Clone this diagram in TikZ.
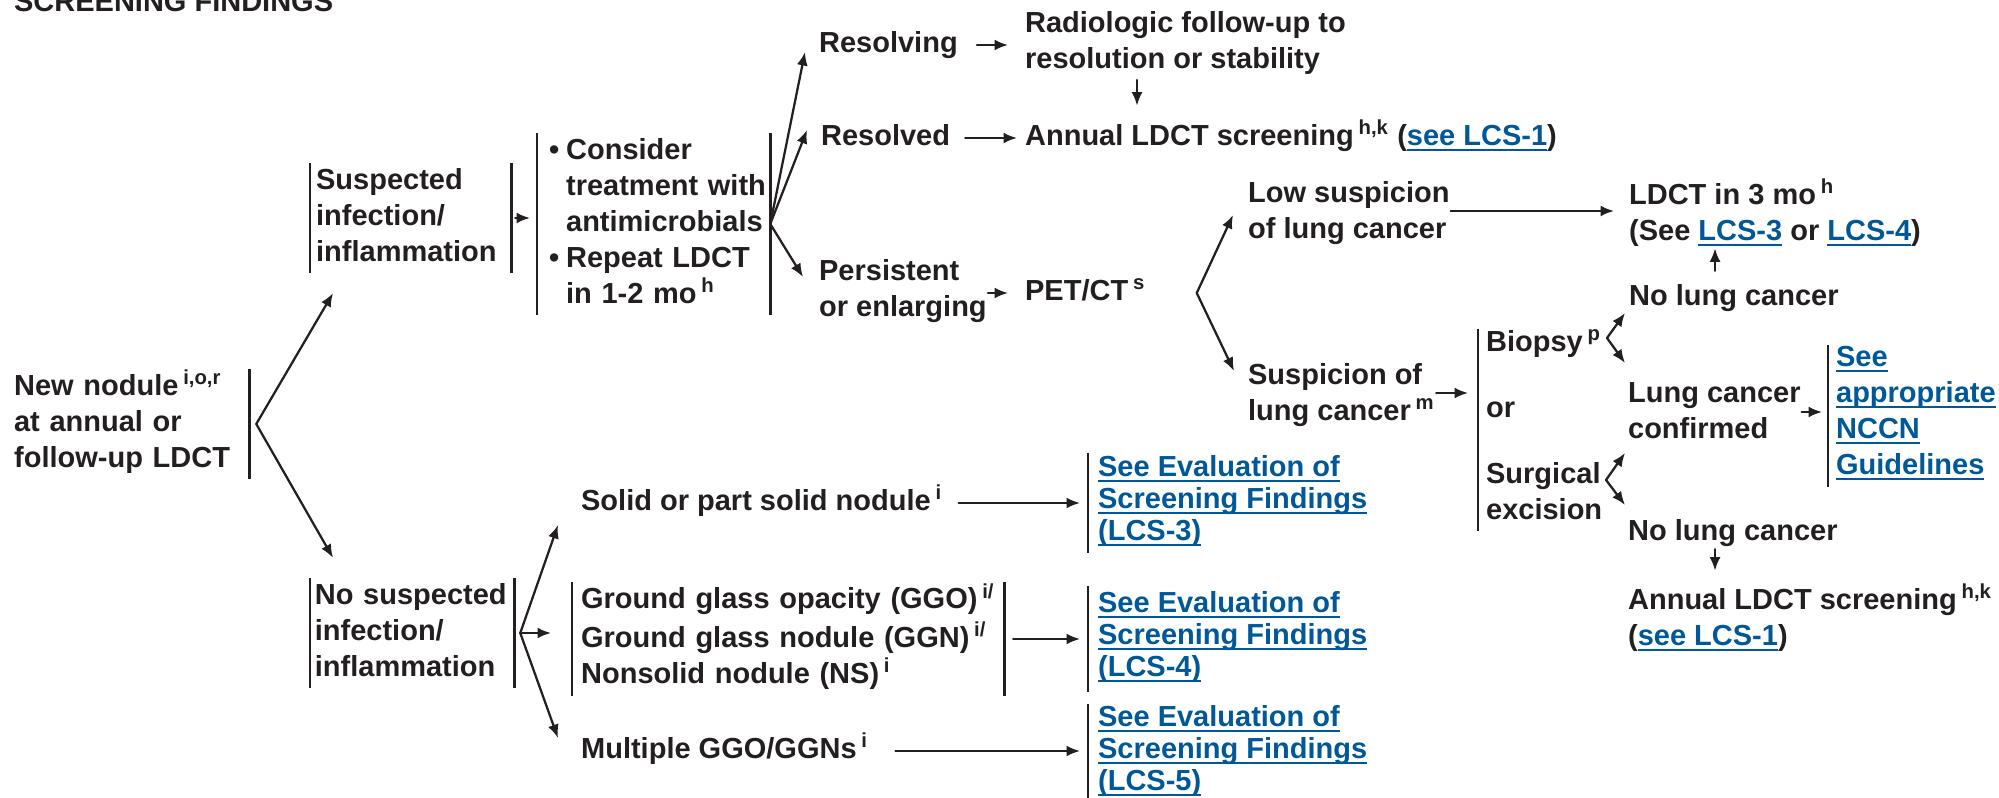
\documentclass[tikz,border=0pt]{standalone}
\usepackage{fontspec}
\setmainfont{Liberation Sans}
\usetikzlibrary{arrows.meta,calc}

\definecolor{ink}{RGB}{35,31,32}
\definecolor{linkblue}{RGB}{0,88,152}

\newlength\lnkwd
\newcommand\lnk[1]{\settowidth\lnkwd{#1}\textcolor{linkblue}{\rlap{\rule[-2.3pt]{\lnkwd}{0.8pt}}#1}}
\newcommand\fnm[1]{\,\textsuperscript{#1}}
\newcommand\bulit{\hspace*{4.4pt}\makebox[6.8pt][l]{\textbullet}}
\newcommand\indnt[1]{\hspace*{11.2pt}\mbox{#1}}

\begin{document}
\begin{tikzpicture}[x=0.4pt, y=-0.4pt, >={Latex[length=5.4pt,width=4.4pt]},
  line cap=round, line join=round, ink, line width=0.9pt,
  every node/.style={font=\fontsize{11.6pt}{14.4pt}\selectfont\bfseries, text=ink,
    inner sep=0pt, align=left, execute at begin node=\strut, execute at end node=\strut},
  lbl/.style={anchor=west},
  lcs/.style={anchor=west, font=\fontsize{11.6pt}{12.8pt}\selectfont\bfseries,
    inner xsep=3.6pt, minimum height=#1},
  bar/.style={line width=1.1pt, line cap=butt}]

  \useasboundingbox (0,0) rectangle (1999,798);
  \clip (0,0) rectangle (1999,798);

  % heading (cut at the top edge)
  \node[anchor=base west] (title) at (13,12) {SCREENING FINDINGS};

  % Left: new nodule
  \node[anchor=west, text width=93.6pt, minimum height=43.2pt] (nodule) at (13,424)
    {New nodule\fnm{i,o,r}\\at annual or\\follow-up LDCT};
  \draw[bar] (nodule.north east) -- (nodule.south east);
  \coordinate (nodfork) at ($(nodule.east)+(7,0)$);

  % Upper branch: suspected infection/inflammation
  \node[anchor=west, text width=75.6pt, inner xsep=2pt, minimum height=43.2pt] (sus) at (310,218)
    {Suspected\\infection/\\inflammation};
  \draw[bar] (sus.north west) -- (sus.south west) (sus.north east) -- (sus.south east);

  \node[anchor=west, text width=92.4pt, minimum height=70.8pt] (cons) at (537,224)
    {\bulit Consider\\\indnt{treatment with}\\\indnt{antimicrobials}\\\bulit Repeat LDCT\\\indnt{in 1-2 mo\fnm{h}}};
  \draw[bar] (cons.north west) -- (cons.south west) (cons.north east) -- (cons.south east);

  \node[lbl] (resolving) at (818,45) {Resolving};
  \node[lbl] (resolved) at (820,138) {Resolved};
  \node[lbl] (persist) at (818,293) {Persistent\\or enlarging};
  \node[lbl] (radio) at (1024,45) {Radiologic follow-up to\\resolution or stability};
  \node[lbl] (annual1) at (1024,138) {Annual LDCT screening\fnm{h,k} (\lnk{see LCS-1})};
  \node[lbl] (pet) at (1024,293) {PET/CT\fnm{s}};

  % PET/CT outcomes
  \node[lbl] (lowsusp) at (1247,215) {Low suspicion\\of lung cancer};
  \node[lbl] (susp) at (1247,397) {Suspicion of\\lung cancer\fnm{m}};
  \node[lbl] (ldct3) at (1628,215) {LDCT in 3 mo\fnm{h}\\(See \lnk{LCS-3} or \lnk{LCS-4})};
  \node[lbl] (nolc1) at (1628,298) {No lung cancer};

  \node[anchor=west, inner xsep=2.8pt] (biopsy) at (1478,430)
    {Biopsy\fnm{p}\\[12pt]or\\[12pt]Surgical\\excision};
  \draw[bar] (biopsy.north west) -- (biopsy.south west);
  \coordinate (bfork) at ($(biopsy.west)+(129,-92)$);
  \coordinate (sfork) at ($(biopsy.west)+(128,50)$);

  \node[lbl] (lcconf) at (1627,416) {Lung cancer\\confirmed};
  \node[anchor=west, inner xsep=2.8pt] (nccn) at (1828,416)
    {\lnk{See}\\\lnk{appropriate}\\\lnk{NCCN}\\\lnk{Guidelines}};
  \draw[bar] (nccn.north west) -- (nccn.south west);
  \node[lbl] (nolc2) at (1627,533) {No lung cancer};
  \node[lbl] (annual2) at (1627,620) {Annual LDCT screening\fnm{h,k}\\(\lnk{see LCS-1})};

  % Lower branch: no suspected infection/inflammation
  \node[anchor=west, text width=77.8pt, inner xsep=1.5pt, minimum height=43.2pt] (nosus) at (310,633)
    {No suspected\\infection/\\inflammation};
  \draw[bar] (nosus.north west) -- (nosus.south west) (nosus.north east) -- (nosus.south east);
  \coordinate (nsfork) at ($(nosus.east)+(6,0)$);

  \node[lbl] (solid) at (580,503) {Solid or part solid nodule\fnm{i}};
  \node[anchor=west, text width=165.6pt, inner xsep=3.2pt, minimum height=42.4pt] (ggo) at (572,639)
    {Ground glass opacity (GGO)\fnm{i/}\\Ground glass nodule (GGN)\fnm{i/}\\Nonsolid nodule (NS)\fnm{i}};
  \draw[bar] (ggo.north west) -- (ggo.south west) (ggo.north east) -- (ggo.south east);
  \node[lbl] (multi) at (580,751) {Multiple GGO/GGNs\fnm{i}};

  \node[lcs=39.2pt] (lcs3) at (1088,503) {\lnk{See Evaluation of}\\\lnk{Screening Findings}\\\lnk{(LCS-3)}};
  \node[lcs=41.2pt] (lcs4) at (1088,639) {\lnk{See Evaluation of}\\\lnk{Screening Findings}\\\lnk{(LCS-4)}};
  \node[lcs=38pt] (lcs5) at (1088,753) {\lnk{See Evaluation of}\\\lnk{Screening Findings}\\\lnk{(LCS-5)}};
  \foreach \n in {lcs3,lcs4,lcs5}
    \draw[bar] (\n.north west) -- (\n.south west);

  % connectors
  \draw[->] (nodfork) -- ($(sus.south west)+(23,20)$);
  \draw[->] (nodfork) -- ($(nosus.north west)+(23,-20)$);

  \draw[->, shorten <=1.6pt, shorten >=2.8pt] (sus.east) -- (sus.east -| cons.west);
  \draw[->] (cons.east) -- ($(resolving.west)+(-13,7)$);
  \draw[->] (cons.east) -- ($(resolved.west)+(-13,-8)$);
  \draw[->] (cons.east) -- ($(persist.west)+(-15,-16)$);
  \draw[->, shorten <=7.2pt, shorten >=6.4pt] (resolving) -- (radio);
  \draw[->] ($(radio.south west)+(113,0)$) -- ($(annual1.north west)+(113,-13)$);
  \draw[->, shorten <=5.6pt, shorten >=2.8pt] (resolved) -- (annual1);
  \draw[->, shorten >=6.4pt] (persist) -- (pet);

  \coordinate (petfork) at ($(pet.east)+(50,0)$);
  \draw[->] (petfork) -- ($(lowsusp.west)+(-14,0)$);
  \draw[->] (petfork) -- ($(susp.west)+(-13,-26)$);
  \draw[->, shorten >=5.6pt] ([yshift=1.6pt]lowsusp.east) -- ([yshift=1.6pt]lowsusp.east -| ldct3.west);
  \draw[->] ($(nolc1.north west)+(87,-8)$) -- ($(ldct3.south west)+(87,-4)$);
  \draw[->, shorten >=4pt] ([yshift=1.6pt]susp.east) -- ([yshift=1.6pt]susp.east -| biopsy.west);

  \draw[->] (bfork) -- ($(nolc1.west)+(-3,15)$);
  \draw[->] (bfork) -- ($(lcconf.west)+(-2,-53)$);
  \draw[->] (sfork) -- ($(lcconf.west)+(-2,37)$);
  \draw[->] (sfork) -- ($(nolc2.west)+(-2,-28)$);
  \draw[->, shorten >=2.4pt] ([yshift=1.6pt]lcconf.east) -- ([yshift=1.6pt]lcconf.east -| nccn.west);
  \draw[->] ($(nolc2.south west)+(88,-3)$) -- ($(annual2.north west)+(88,-12)$);

  \draw[->] (nsfork) -- ($(solid.west)+(-22,22)$);
  \draw[->, shorten >=8.4pt] (nsfork) -- (nsfork -| ggo.west);
  \draw[->] (nsfork) -- ($(multi.west)+(-22,-13)$);
  \draw[->, shorten <=6pt, shorten >=3.2pt] (solid.east) -- (solid.east -| lcs3.west);
  \draw[->, shorten <=3.6pt, shorten >=3.2pt] (ggo.east) -- (ggo.east -| lcs4.west);
  \draw[->, shorten <=10.4pt, shorten >=3.2pt] (multi.east) -- (multi.east -| lcs5.west);
\end{tikzpicture}
\end{document}
